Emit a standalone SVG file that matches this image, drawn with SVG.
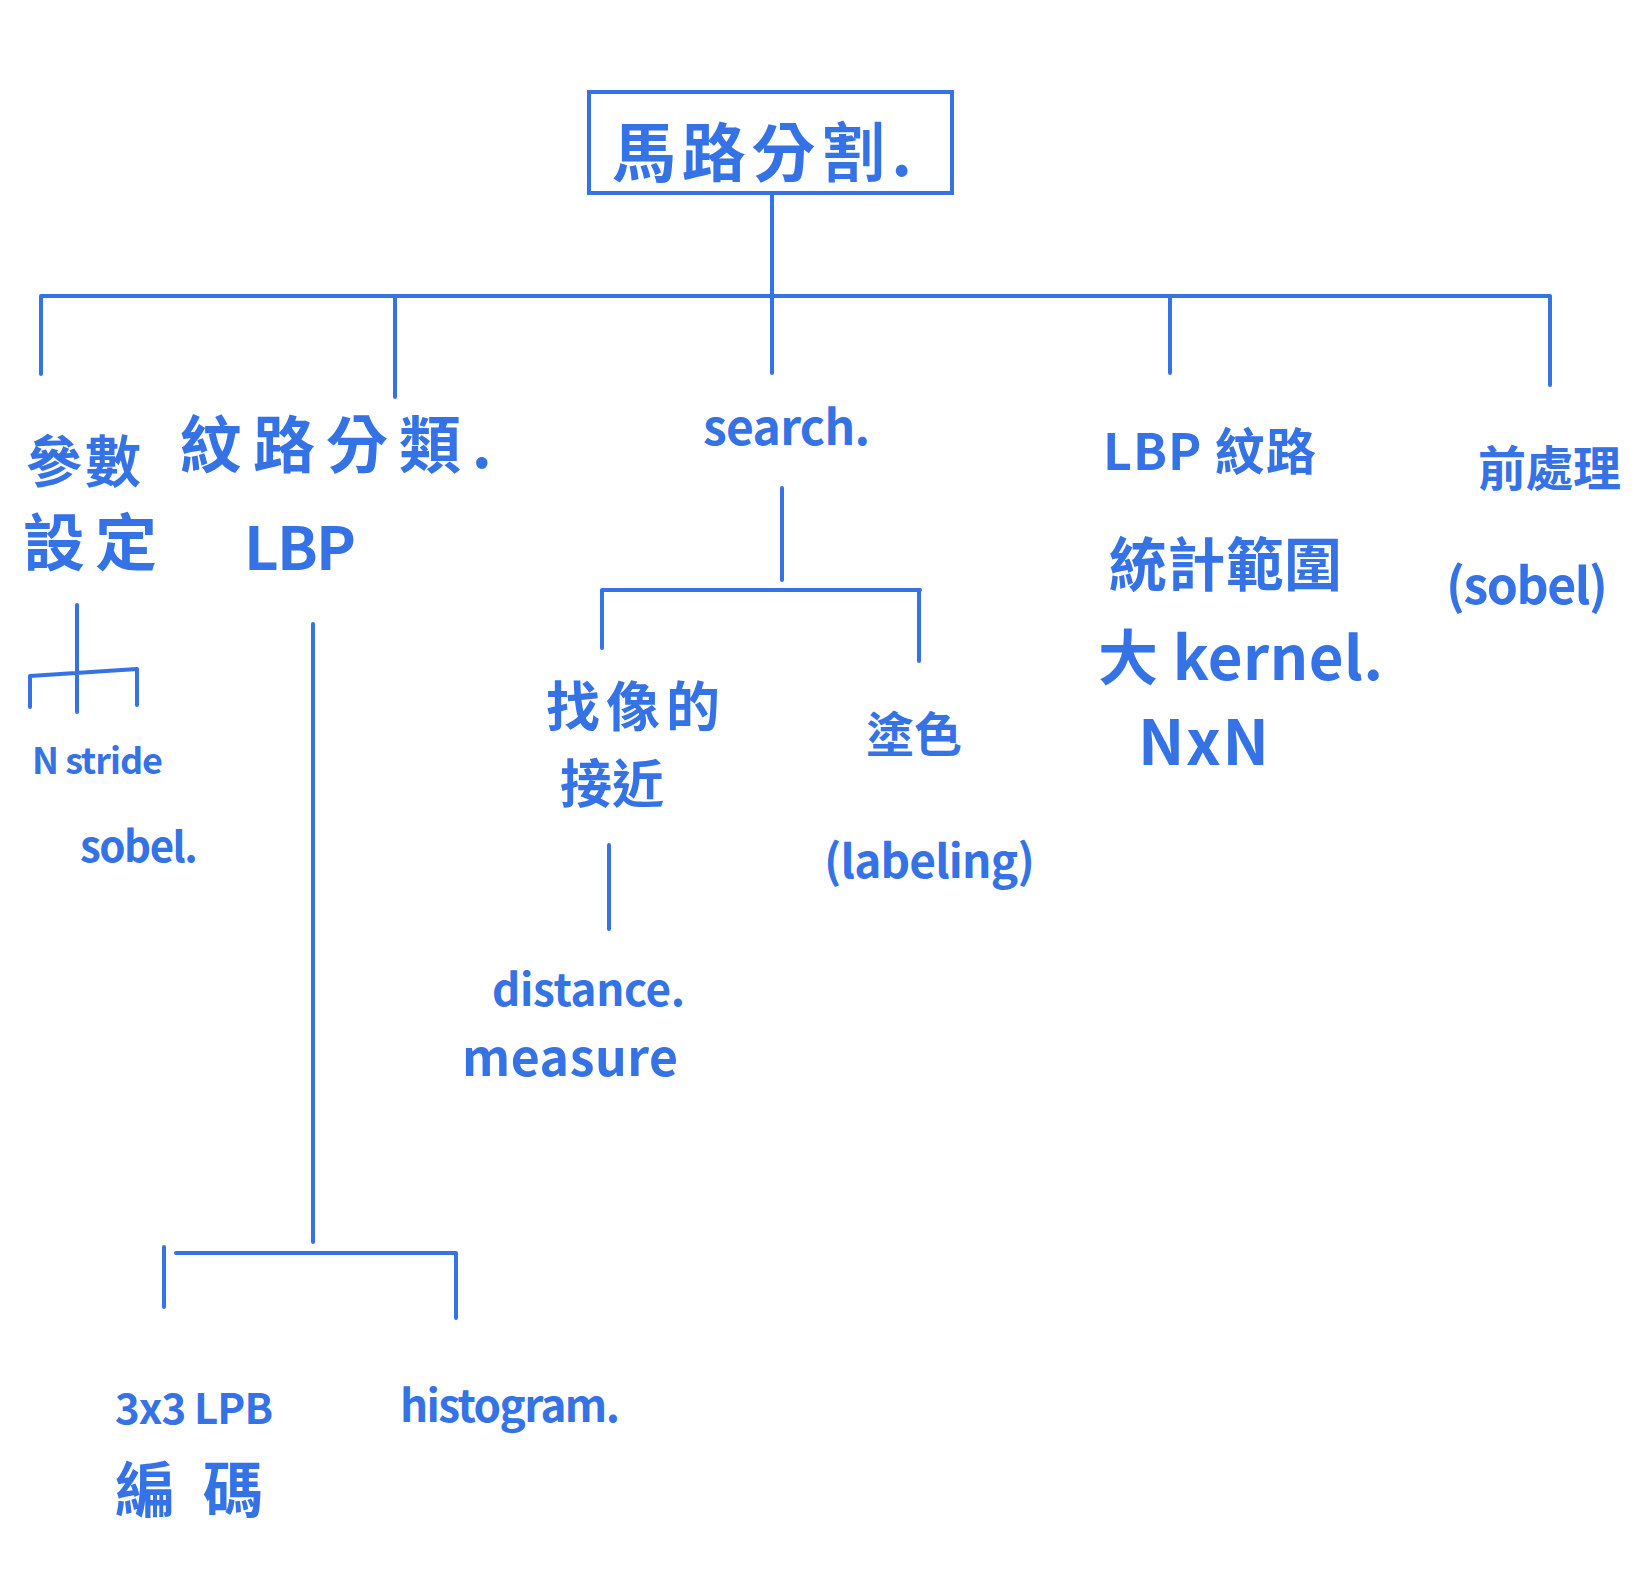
<svg xmlns="http://www.w3.org/2000/svg" width="1640" height="1572" viewBox="0 0 1640 1572">
<style>
.t{fill:#3572e6;font-family:"Noto Sans CJK TC","Noto Sans",sans-serif;font-weight:700}
.c{stroke:#3572e6;stroke-width:4;fill:none;stroke-linecap:round}
.b{stroke:#3572e6;stroke-width:4;fill:#ffffff}
</style>
<rect width="1640" height="1572" fill="#ffffff"/>
<g id="connectors">
<path class="c" d="M772 193 V296 M41 296 H1550 M41 296 V374 M395 296 V397 M772 296 V373 M1170 296 V373 M1550 296 V385"/>
<path class="c" d="M77 605 V712 M30 676 L137 669 M30 676 V707 M137 669 V705"/>
<path class="c" d="M782 488 V580 M602 590 H920 M602 590 V648 M919 590 V661 M609 845 V929"/>
<path class="c" d="M313 624 V1242 M176 1253 H456 M164 1247 V1307 M456 1253 V1318"/>
</g>
<g id="root">
<rect class="b" x="589" y="92" width="363" height="101"/>
<text class="t" x="612" y="176" font-size="64" textLength="300">馬路分割.</text>
</g>
<g id="params">
<text class="t" x="26" y="482" font-size="56" textLength="115">參數</text>
<text class="t" x="23" y="566" font-size="62" textLength="134">設定</text>
</g>
<g id="stride">
<text class="t" x="32" y="774" font-size="36" textLength="131">N stride</text>
<text class="t" x="80" y="862" font-size="42" textLength="118">sobel.</text>
</g>
<g id="texture">
<text class="t" x="180" y="468" font-size="62" textLength="312">紋路分類.</text>
<text class="t" x="244" y="570" font-size="60" textLength="112">LBP</text>
</g>
<g id="lbp-code">
<text class="t" x="115" y="1424" font-size="42" textLength="158">3x3 LPB</text>
<text class="t" x="115" y="1512" font-size="60" textLength="148">編碼</text>
</g>
<g id="histogram">
<text class="t" x="400" y="1422" font-size="44" textLength="220">histogram.</text>
</g>
<g id="search">
<text class="t" x="703" y="445" font-size="48" textLength="167">search.</text>
</g>
<g id="nearest">
<text class="t" x="546" y="727" font-size="54" textLength="174">找像的</text>
<text class="t" x="560" y="803" font-size="52" textLength="104">接近</text>
</g>
<g id="distance">
<text class="t" x="492" y="1006" font-size="44" textLength="193">distance.</text>
<text class="t" x="462" y="1076" font-size="50" textLength="216">measure</text>
</g>
<g id="coloring">
<text class="t" x="866" y="752" font-size="48" textLength="96">塗色</text>
<text class="t" x="824" y="878" font-size="46" textLength="211">(labeling)</text>
</g>
<g id="lbp-range">
<text class="t" x="1103" y="470" font-size="50" textLength="213">LBP 紋路</text>
<text class="t" x="1109" y="586" font-size="58" textLength="233">統計範圍</text>
<text class="t" x="1098" y="680" font-size="60" textLength="285">大 kernel.</text>
<text class="t" x="1138" y="765" font-size="62" textLength="131">NxN</text>
</g>
<g id="preprocess">
<text class="t" x="1478" y="486" font-size="48" textLength="143">前處理</text>
<text class="t" x="1446" y="604" font-size="50" textLength="162">(sobel)</text>
</g>
</svg>
